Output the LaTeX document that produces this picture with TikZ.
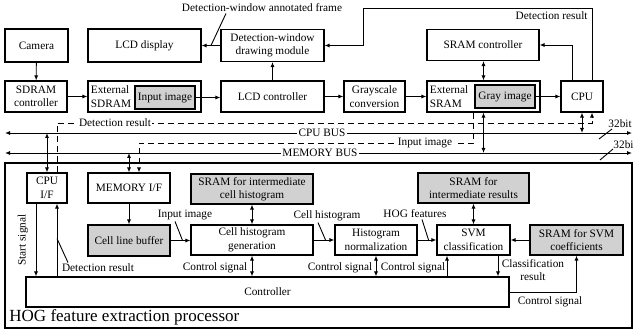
\documentclass[tikz,border=0pt]{standalone}
\usepackage{fontspec}
\setmainfont{Liberation Serif}
\usepackage{tikz}
\usetikzlibrary{arrows.meta}

\tikzset{
  every node/.style={font=\fontsize{11.3}{13.5}\selectfont},
  box/.style={draw, line width=1.1pt, align=center, inner sep=1pt},
  graybox/.style={box, fill=black!18},
  lbl/.style={inner sep=1pt, align=center},
  buslbl/.style={lbl, fill=white, inner sep=1.5pt},
  dashline/.style={dash pattern=on 6pt off 4pt},
  >={Latex[length=5pt,width=4pt]}
}

\begin{document}
\begin{tikzpicture}[x=1pt,y=-1pt,line width=0.9pt]
  \useasboundingbox (0,0) rectangle (635,331);

  % upper system
  \node[box, minimum width=63pt, minimum height=33pt] (camera) at (36.5,45.5) {Camera};
  \node[box, minimum width=113pt, minimum height=33pt] (lcd) at (144.5,45.5) {LCD display};
  \node[box, minimum width=103pt, minimum height=32pt] (drawmod) at (272.5,45.5) {Detection-window\\drawing module};
  \node[box, minimum width=112pt, minimum height=31pt] (sramctrl) at (483,45) {SRAM controller};

  \node[box, minimum width=62pt, minimum height=31pt] (sdramctrl) at (36,96.5) {SDRAM\\controller};
  \node[box, minimum width=113pt, minimum height=31pt] (extsdram) at (144.5,96.5) {};
  \node[lbl, anchor=west, align=left, inner sep=0pt] (extsdramlbl) at ([xshift=3pt]extsdram.west) {External\\SDRAM};
  \node[graybox, minimum width=60pt, minimum height=23pt] (inimg) at (165,97.5) {Input image};
  \node[box, minimum width=103pt, minimum height=31pt] (lcdctrl) at (272.5,96.5) {LCD controller};
  \node[box, minimum width=61pt, minimum height=31pt] (grayconv) at (374.5,96.5) {Grayscale\\conversion};
  \node[box, minimum width=113pt, minimum height=31pt] (extsram) at (483.5,96.5) {};
  \node[lbl, anchor=west, align=left, inner sep=0pt] (extsramlbl) at ([xshift=3pt]extsram.west) {External\\SRAM};
  \node[graybox, minimum width=60pt, minimum height=23pt] (grayimg) at (505,96.5) {Gray image};
  \node[box, minimum width=42pt, minimum height=31pt] (cpu) at (582,96.5) {CPU};

  \draw[->] (camera) -- (sdramctrl);
  \draw[->] (sdramctrl) -- (extsdram);
  \draw[->] (inimg.east) -- (inimg.east -| lcdctrl.west);
  \draw[->] (lcdctrl) -- (drawmod);
  \draw[->] (lcdctrl) -- (grayconv);
  \draw[->] (grayconv) -- (extsram);
  \draw[->] (grayimg.east) -- (grayimg.east -| cpu.west);
  \draw[<->] (sramctrl.south -| extsram.north) -- (extsram.north);
  \draw[->] (drawmod) -- (lcd);
  \draw[->] ([xshift=-10pt]cpu.north) |- (sramctrl.east);
  \draw[->] ([xshift=10pt]cpu.north) |- (363,8) |- (drawmod.east);
  \node[lbl, anchor=east] (detreslbl) at (589,16) {Detection result};
  \node[lbl] (framelbl) at (262,8) {Detection-window annotated frame};
  \coordinate (frametip) at (211,45.5);
  \draw ([xshift=-36pt]framelbl.south) -- (frametip);

  % buses
  \coordinate (cbl) at (5,133);
  \coordinate (cbr) at (632,133);
  \coordinate (mbl) at (5,153);
  \coordinate (mbr) at (632,153);
  \draw[<->] (cbl) -- (cbr);
  \draw[<->] (mbl) -- (mbr);
  \node[buslbl] (cpubus) at (322,133) {CPU BUS};
  \node[buslbl] (membus) at (320,153) {MEMORY BUS};
  \draw[<->] (cpu.south) -- (cpu.south |- cbl);
  \draw[<->] (extsram.south) -- (extsram.south |- mbl);

  \node[lbl, anchor=west] (bitcpu) at (607,124) {32bit};
  \node[lbl, anchor=west] (bitmem) at (612,145) {32bi};
  \draw (599,139) -- (612,129);
  \draw (600,160) -- (613,149);

  % processor
  \draw[line width=1.1pt] (5,163) rectangle (632,328);
  \node[anchor=base west, inner sep=0pt, font=\fontsize{17}{18}\selectfont] (proctitle) at (9,322) {HOG feature extraction processor};

  \node[box, minimum width=40pt, minimum height=30pt] (cpuif) at (47,188) {CPU\\I/F};
  \node[box, minimum width=82pt, minimum height=30pt] (memif) at (129,188) {MEMORY I/F};
  \node[graybox, minimum width=122pt, minimum height=30pt] (sramcell) at (252,189) {SRAM for intermediate\\cell histogram};
  \node[graybox, minimum width=111pt, minimum height=30pt] (sramint) at (473.5,188) {SRAM for\\intermediate results};

  \node[graybox, minimum width=82pt, minimum height=31pt] (cellbuf) at (129,240.5) {Cell line buffer};
  \node[box, minimum width=122pt, minimum height=30pt] (chg) at (252,240) {Cell histogram\\generation};
  \node[box, minimum width=82pt, minimum height=30pt] (hn) at (376,240) {Histogram\\normalization};
  \node[box, minimum width=73pt, minimum height=30pt] (svm) at (473.5,240) {SVM\\classification};
  \node[graybox, minimum width=93pt, minimum height=30pt] (sramsvm) at (576.5,240) {SRAM for SVM\\coefficients};
  \node[box, minimum width=483pt, minimum height=30pt] (controller) at (267.5,292) {Controller};

  % bus connections
  \draw[<->] (cpuif.north |- cbl) -- (cpuif.north);
  \draw[<->] (memif.north |- mbl) -- (memif.north);
  \draw[dashline,->] ([xshift=10pt]cpuif.north) |- (592,123) -- ([xshift=10pt]cpu.south);
  \node[buslbl] (detbuslbl) at (115,123) {Detection result};
  \coordinate (inimgbus) at (139,143);
  \draw[dashline,->] ([xshift=-10pt]extsram.south) |- (inimgbus) -- ([xshift=10pt]memif.north);
  \node[buslbl] (inbuslbl) at (425,143) {Input image};

  % data path
  \draw[->] (memif) -- (cellbuf);
  \draw[<->] (sramcell) -- (chg);
  \draw[<->] (sramint) -- (svm);
  \draw[->] (cellbuf.east) -- (cellbuf.east -| chg.west);
  \draw[->] (chg) -- (hn);
  \draw[->] (hn) -- (svm);
  \draw[->] (sramsvm) -- (svm);
  \node[lbl] (inlbl) at (185,215) {Input image};
  \node[lbl] (chlbl) at (327,216) {Cell histogram};
  \node[lbl] (hoglbl) at (415,214) {HOG features};
  \draw ([xshift=-10pt]inlbl.south) -- ([xshift=12pt]cellbuf.east);
  \draw ([xshift=-9pt]chlbl.south) -- ([xshift=12pt]chg.east);
  \draw ([xshift=7pt]hoglbl.south) -- ([xshift=11pt]hn.east);

  % control
  \draw[->] ([xshift=-11pt]cpuif.south) -- ([xshift=-11pt]cpuif.south |- controller.north);
  \draw[->] ([xshift=10pt]cpuif.south |- controller.north) -- ([xshift=10pt]cpuif.south);
  \node[lbl, rotate=90] (startlbl) at (23,240) {Start signal};
  \node[lbl] (detinlbl) at (98,268) {Detection result};
  \draw ([xshift=-30pt]detinlbl.north) -- ([xshift=10pt,yshift=-35pt]cpuif.south);
  \draw[<->] (chg.south) -- (chg.south |- controller.north);
  \draw[<->] (hn.south) -- (hn.south |- controller.north);
  \draw[->] ([xshift=-26.5pt]svm.south |- controller.north) -- ([xshift=-26.5pt]svm.south);
  \draw[->] ([xshift=24.5pt]svm.south) -- ([xshift=24.5pt]svm.south |- controller.north);
  \draw[->] (controller.east) -| (sramsvm.south);
  \node[lbl] (ctl1) at (215,268) {Control signal};
  \node[lbl] (ctl2) at (340,268) {Control signal};
  \node[lbl] (ctl3) at (413,268) {Control signal};
  \node[lbl] (ctl4) at (550,302) {Control signal};
  \node[lbl] (classlbl) at (533,270) {Classification\\result};
\end{tikzpicture}
\end{document}
